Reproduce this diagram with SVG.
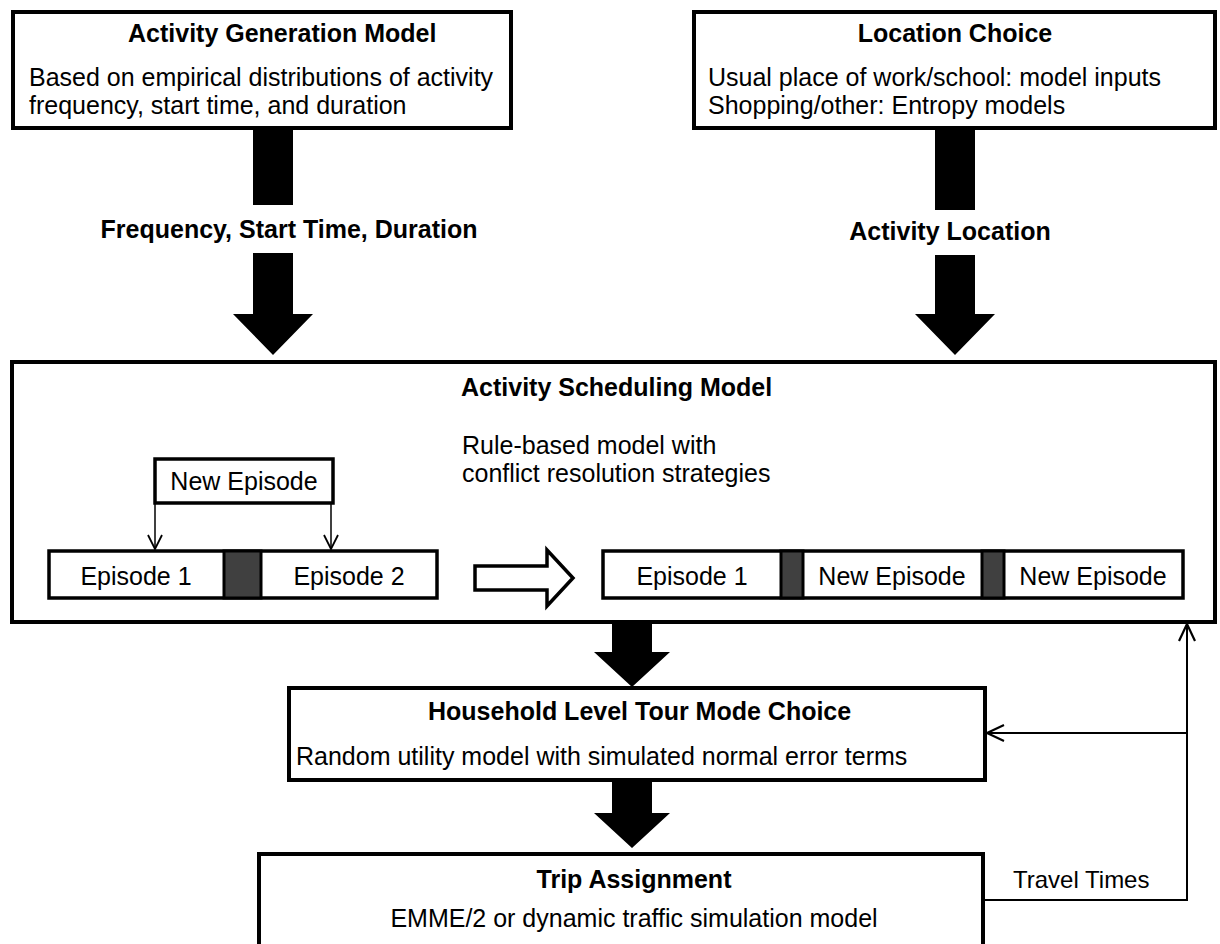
<svg xmlns="http://www.w3.org/2000/svg" width="1220" height="944" viewBox="0 0 1220 944">
  <style>
    .box { fill: #ffffff; stroke: #000000; stroke-width: 4; }
    .cell { fill: #ffffff; stroke: #000000; stroke-width: 3.5; }
    .gap { fill: #404040; stroke: #000000; stroke-width: 3; }
    .title { font-family: "Liberation Sans", Arial, sans-serif; font-size: 25px; font-weight: bold; fill: #000000; }
    .body { font-family: "Liberation Sans", Arial, sans-serif; font-size: 25px; fill: #000000; }
    .label { font-family: "Liberation Sans", Arial, sans-serif; font-size: 24px; fill: #000000; }
    .block { fill: #000000; stroke: none; }
    .thin { fill: none; stroke: #000000; stroke-width: 1.5; }
    .feed { fill: none; stroke: #000000; stroke-width: 2; }
    .hollow { fill: #ffffff; stroke: #000000; stroke-width: 3.5; stroke-linejoin: miter; }
  </style>
  <defs>
    <marker id="openHead" viewBox="0 0 16 16" refX="15" refY="8" markerWidth="16" markerHeight="16" markerUnits="userSpaceOnUse" orient="auto">
      <path d="M1,1 L15,8 L1,15" fill="none" stroke="#000000" stroke-width="1.8"/>
    </marker>
    <marker id="openHeadBig" viewBox="0 0 20 20" refX="18" refY="10" markerWidth="20" markerHeight="20" markerUnits="userSpaceOnUse" orient="auto">
      <path d="M1,2 L18,10 L1,18" fill="none" stroke="#000000" stroke-width="2.2"/>
    </marker>
  </defs>

  <rect width="1220" height="944" fill="#ffffff"/>

  <!-- Activity Generation Model -->
  <g id="activity-generation">
    <rect class="box" x="13" y="12" width="498" height="116"/>
    <text class="title" x="128" y="42">Activity Generation Model</text>
    <text class="body" x="29" y="86">Based on empirical distributions of activity</text>
    <text class="body" x="29" y="114">frequency, start time, and duration</text>
  </g>

  <!-- Location Choice -->
  <g id="location-choice">
    <rect class="box" x="694" y="12" width="521" height="116"/>
    <text class="title" x="955" y="42" text-anchor="middle">Location Choice</text>
    <text class="body" x="708" y="86">Usual place of work/school: model inputs</text>
    <text class="body" x="708" y="114">Shopping/other: Entropy models</text>
  </g>

  <!-- Activity Scheduling Model -->
  <g id="activity-scheduling">
    <rect class="box" x="12" y="362" width="1203" height="260"/>
    <text class="title" x="461" y="396">Activity Scheduling Model</text>
    <text class="body" x="462" y="454">Rule-based model with</text>
    <text class="body" x="462" y="482">conflict resolution strategies</text>

    <g id="new-episode">
      <rect class="cell" x="155" y="459" width="178" height="44"/>
      <text class="body" x="244" y="490" text-anchor="middle">New Episode</text>
    </g>

    <g id="schedule-before">
      <rect class="cell" x="49" y="551" width="388" height="47"/>
      <rect class="gap" x="224" y="551" width="37" height="47"/>
      <text class="body" x="136" y="585" text-anchor="middle">Episode 1</text>
      <text class="body" x="349" y="585" text-anchor="middle">Episode 2</text>
    </g>

    <polygon class="hollow" points="475,566 547,566 547,550 573,578 547,606 547,590 475,590"/>

    <g id="schedule-after">
      <rect class="cell" x="603" y="551" width="580" height="47"/>
      <rect class="gap" x="781" y="551" width="22" height="47"/>
      <rect class="gap" x="982" y="551" width="22" height="47"/>
      <text class="body" x="692" y="585" text-anchor="middle">Episode 1</text>
      <text class="body" x="892" y="585" text-anchor="middle">New Episode</text>
      <text class="body" x="1093" y="585" text-anchor="middle">New Episode</text>
    </g>
  </g>

  <!-- Household Level Tour Mode Choice -->
  <g id="mode-choice">
    <rect class="box" x="289" y="688" width="696" height="92"/>
    <text class="title" x="428" y="720">Household Level Tour Mode Choice</text>
    <text class="body" x="296" y="765">Random utility model with simulated normal error terms</text>
  </g>

  <!-- Trip Assignment -->
  <g id="trip-assignment">
    <rect class="box" x="259" y="854" width="724" height="100"/>
    <text class="title" x="634" y="888" text-anchor="middle">Trip Assignment</text>
    <text class="body" x="634" y="927" text-anchor="middle">EMME/2 or dynamic traffic simulation model</text>
  </g>

  <!-- Connectors -->
  <g id="connectors">
    <!-- block arrow: generation to scheduling -->
    <rect class="block" x="253" y="128" width="40" height="77"/>
    <text class="title" x="289" y="238" text-anchor="middle">Frequency, Start Time, Duration</text>
    <polygon class="block" points="253,253 293,253 293,314 313,314 273,355 233,314 253,314"/>

    <!-- block arrow: location choice to scheduling -->
    <rect class="block" x="935" y="128" width="40" height="82"/>
    <text class="title" x="950" y="240" text-anchor="middle">Activity Location</text>
    <polygon class="block" points="935,255 975,255 975,314 995,314 955,355 915,314 935,314"/>

    <!-- block arrow: scheduling to mode choice -->
    <polygon class="block" points="612,622 652,622 652,652 670,652 632,687 594,652 612,652"/>

    <!-- block arrow: mode choice to trip assignment -->
    <polygon class="block" points="612,780 652,780 652,813 670,813 632,848 594,813 612,813"/>

    <!-- new episode inserted into the schedule -->
    <line class="thin" x1="155" y1="503" x2="155" y2="549" marker-end="url(#openHead)"/>
    <line class="thin" x1="331" y1="503" x2="331" y2="549" marker-end="url(#openHead)"/>

    <!-- travel time feedback -->
    <polyline class="feed" points="983,900 1187,900 1187,624" marker-end="url(#openHeadBig)"/>
    <line class="feed" x1="1187" y1="733" x2="987" y2="733" marker-end="url(#openHeadBig)"/>
    <text class="label" x="1013" y="888">Travel Times</text>
  </g>
</svg>
